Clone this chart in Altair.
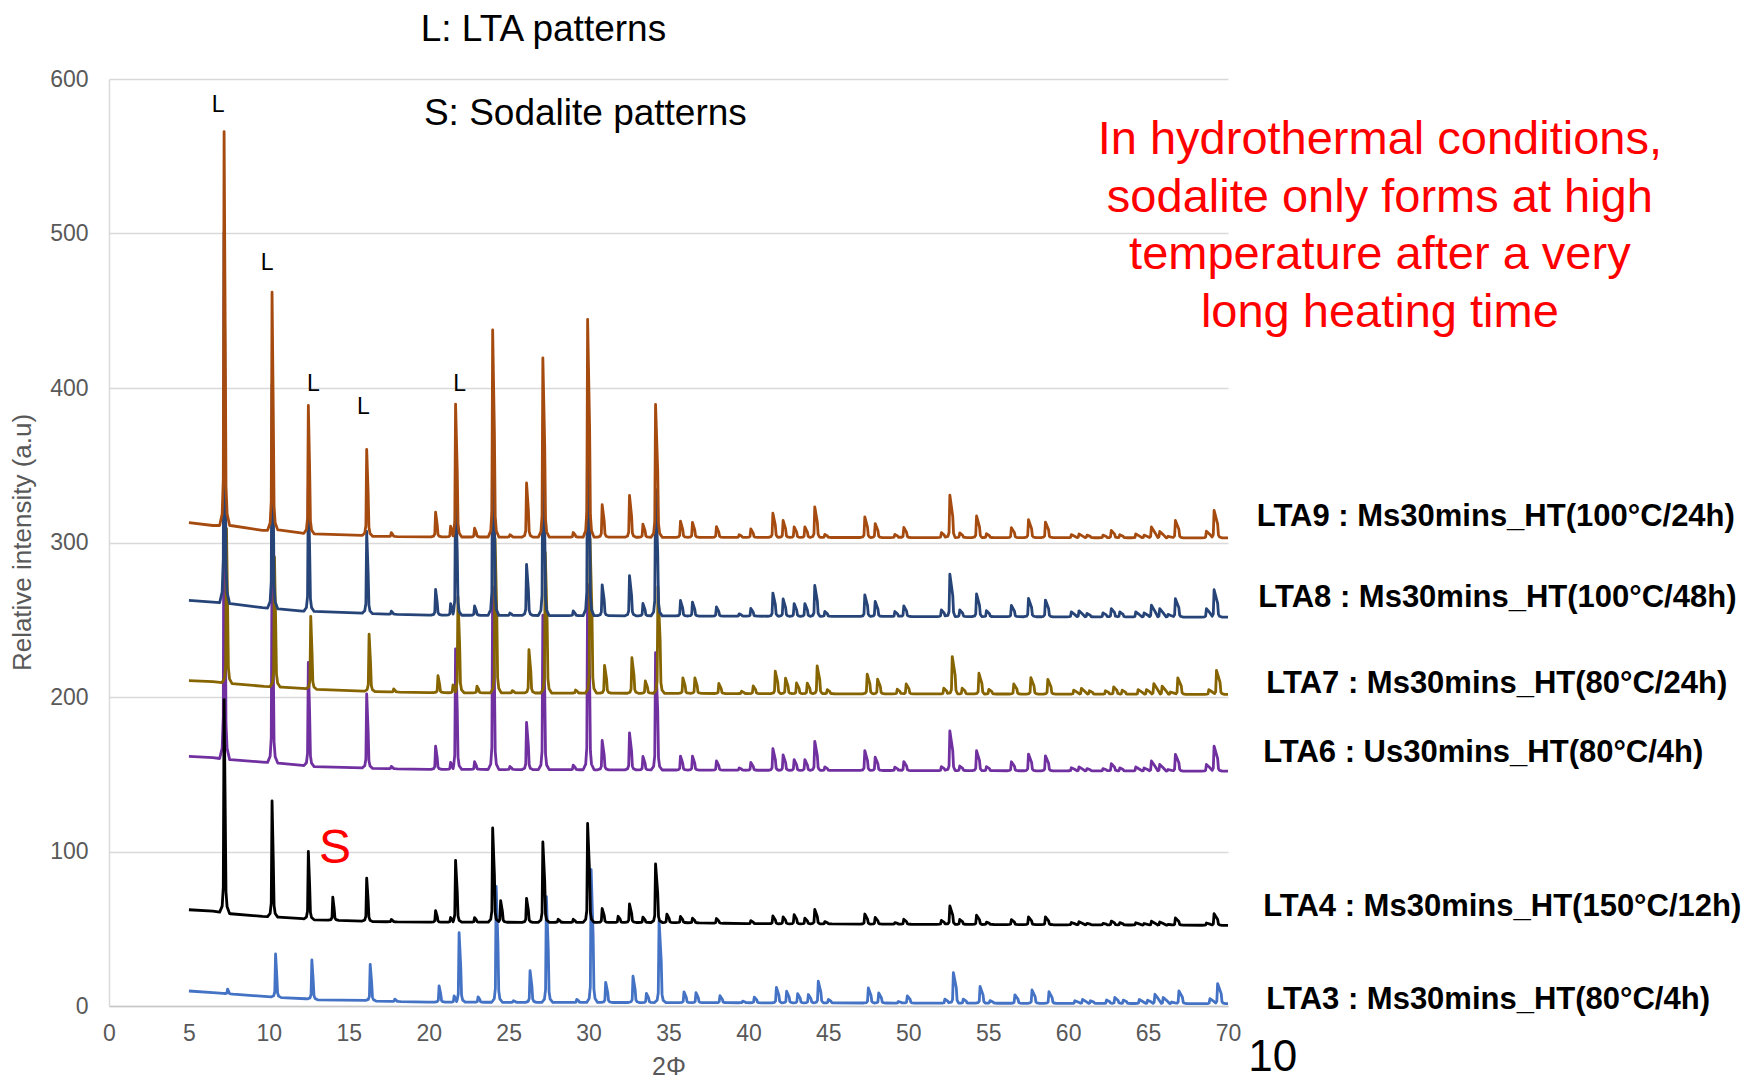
import altair as alt
import numpy as np
import pandas as pd

# ---------------- data ----------------
# shared LTA / sodalite reflection positions (2-theta, degrees)
POS = [7.20, 10.20, 12.47, 14.00, 16.12, 17.66, 20.43, 21.37, 21.68, 22.87,
       24.00, 24.50, 25.08, 26.12, 27.14, 28.10, 29.04, 29.94, 30.85, 31.85,
       32.56, 33.40, 34.19, 34.90, 35.75, 36.50, 38.00, 39.42, 40.15, 41.53,
       42.17, 42.86, 43.53, 44.15, 44.78, 47.28, 47.93, 49.16, 49.72, 52.07,
       52.60, 53.22, 54.27, 54.89, 56.45, 57.52, 58.58, 60.20, 60.68, 61.18,
       62.18, 62.70, 63.23, 64.23, 64.75, 65.21, 65.73, 66.25, 66.71, 68.65,
       69.13]

# peak heights above background, per sample
H_LTA9 = [255, 154, 83, 0, 56, 2.5, 16, 7, 86, 5.7,
          134, 0, 1.5, 35, 116, 0, 3, 141, 21, 0,
          27, 8.5, 86, 0, 10.4, 9.7, 7, 1.7, 5.5, 15.7,
          11, 6.8, 6.9, 19.8, 2, 13.4, 9, 2, 6.5, 3.2,
          27.4, 3, 14, 2.5, 6.5, 11.6, 10.1, 2, 2.4, 1.7,
          1.7, 4.7, 2, 2.5, 1.7, 7, 4.1, 1, 11.2, 4.3,
          17.8]
H_LTA8 = [240, 145, 80, 0, 53, 2, 16.6, 7.5, 82, 6,
          127, 0, 1.5, 33, 110, 0, 3, 130, 20, 0,
          26, 8, 82, 0, 10, 9, 6, 1.5, 5, 15,
          11.2, 8.2, 8.2, 20, 3.2, 14, 9.7, 3.2, 6.9, 4.3,
          27.4, 4.3, 14.7, 3.9, 7.3, 11.9, 10.8, 3.2, 3.9, 2.2,
          2.6, 5.4, 3.2, 3.2, 2.6, 7.6, 5.4, 1.7, 11.9, 5.4,
          17.7]
H_LTA7 = [100, 84, 47, 0, 37, 2, 11, 5, 62, 4.3,
          100, 0, 1.5, 28, 91, 0, 2, 100, 18, 0,
          23, 8, 69, 0, 10, 10, 6.5, 1.5, 5, 14.5,
          10, 6.9, 6.9, 18, 2.6, 12.7, 9.5, 3, 6.5, 3.7,
          24.2, 3.7, 13.4, 3, 6.5, 10.6, 9.5, 2.6, 3.7, 2.2,
          2.2, 4.7, 2.6, 3, 3, 6.9, 5.2, 1.5, 10.6, 3,
          15.5]
H_LTA6 = [230, 135, 67, 0, 48, 1.5, 15, 4.5, 78, 5,
          118, 0, 2, 30.5, 100, 0, 3, 120, 19, 0,
          24, 8.7, 76, 0, 9, 9, 6, 1.5, 5, 14,
          10, 6.9, 6.9, 18.8, 2.2, 12.9, 8.6, 2.2, 5.8, 2.6,
          25.7, 3, 12.9, 2.6, 5.8, 10.8, 9.7, 2, 2.6, 1.5,
          1.5, 4.7, 2, 2.6, 2, 6.5, 4.3, 1, 10.8, 4.3,
          16.2]
H_LTA4 = [138, 75, 44, 15, 28, 1.5, 7.5, 3, 40, 3,
          61, 14, 0, 15.5, 52, 2, 2, 64, 9, 4,
          12, 3.5, 38, 5.5, 4, 3, 3, 0, 2, 5,
          4.5, 6, 3.7, 9.3, 1.5, 6.5, 4.3, 1, 3.2, 2.6,
          11.9, 3.2, 6, 1.5, 3.2, 5, 5, 1.5, 2, 1,
          1, 2.5, 1.5, 1.5, 1, 2.5, 2, 0.5, 4.7, 1.5,
          7.5]
H_LTA3 = [3, 28, 25.5, 0, 23.5, 1.5, 10.5, 4, 45, 3.5,
          75, 0, 1, 20.5, 68.5, 0, 2, 86, 13, 0,
          17, 6, 53, 0, 7, 6.5, 4.5, 1, 3.7, 10,
          7.5, 6, 5.4, 14, 2.2, 9.7, 6.5, 1, 4.7, 2.6,
          19.8, 2.6, 10.8, 1.7, 5.4, 8.6, 7.5, 1.7, 2.6, 1.7,
          2.2, 3.9, 2.2, 2.6, 2.2, 6, 3.9, 1, 8.2, 3.2,
          13]

# background (baseline) points per sample
BG_X_LTA9 = [5.0, 6.5, 7.6, 9.6, 10.6, 12.1, 12.8, 15.8, 16.5, 20.0, 40.0, 70.0]
BG_Y_LTA9 = [312.8, 311.0, 311.0, 307.8, 308.2, 306.0, 305.6, 304.6, 304.0, 303.6, 303.3, 303.0]
BG_X_LTA8 = [5.0, 6.5, 7.6, 9.6, 10.6, 12.1, 12.8, 15.8, 16.5, 20.0, 40.0, 70.0]
BG_Y_LTA8 = [262.5, 261.4, 260.4, 257.8, 257.1, 255.6, 255.4, 254.3, 253.9, 253.0, 252.3, 251.7]
BG_X_LTA7 = [5.0, 6.5, 7.7, 9.7, 10.8, 12.3, 13.0, 15.9, 16.7, 20.0, 40.0, 70.0]
BG_Y_LTA7 = [210.6, 210.0, 208.6, 206.9, 206.4, 205.4, 205.0, 203.8, 203.5, 202.8, 202.2, 201.7]
BG_X_LTA6 = [5.0, 6.5, 7.6, 9.6, 10.6, 12.1, 12.8, 15.8, 16.5, 20.0, 40.0, 70.0]
BG_Y_LTA6 = [161.6, 160.7, 159.4, 157.9, 157.2, 155.7, 155.0, 154.2, 153.8, 153.2, 152.6, 152.0]
BG_X_LTA4 = [5.0, 6.5, 7.6, 9.6, 10.6, 12.1, 12.8, 15.8, 16.5, 20.0, 35.5, 40.0, 70.0]
BG_Y_LTA4 = [62.3, 61.4, 59.7, 58.0, 57.5, 56.5, 55.8, 55.0, 54.6, 54.3, 54.0, 53.3, 52.2]
BG_X_LTA3 = [5.0, 6.5, 7.7, 9.7, 10.8, 12.3, 13.0, 16.0, 16.7, 20.0, 70.0]
BG_Y_LTA3 = [9.7, 8.6, 7.7, 6.2, 5.4, 4.7, 4.0, 3.7, 3.2, 2.5, 1.5]

# peak position offset of each sample relative to POS
SHIFT = {"LTA9": 0.0, "LTA8": 0.0, "LTA7": 0.15, "LTA6": 0.0, "LTA4": 0.0, "LTA3": 0.22}

SERIES = ["LTA3", "LTA6", "LTA7", "LTA8", "LTA9", "LTA4"]  # drawing order
HEIGHTS = {"LTA9": H_LTA9, "LTA8": H_LTA8, "LTA7": H_LTA7,
           "LTA6": H_LTA6, "LTA4": H_LTA4, "LTA3": H_LTA3}
BGX = {"LTA9": BG_X_LTA9, "LTA8": BG_X_LTA8, "LTA7": BG_X_LTA7,
       "LTA6": BG_X_LTA6, "LTA4": BG_X_LTA4, "LTA3": BG_X_LTA3}
BGY = {"LTA9": BG_Y_LTA9, "LTA8": BG_Y_LTA8, "LTA7": BG_Y_LTA7,
       "LTA6": BG_Y_LTA6, "LTA4": BG_Y_LTA4, "LTA3": BG_Y_LTA3}
COLORS = {"LTA9": "#A64B10", "LTA8": "#264478", "LTA7": "#866400",
          "LTA6": "#7030A0", "LTA4": "#000000", "LTA3": "#4472C4"}

# series labels at the right
LABELS = ["LTA9 : Ms30mins_HT(100°C/24h)", "LTA8 : Ms30mins_HT(100°C/48h)",
          "LTA7 : Ms30mins_HT(80°C/24h)", "LTA6 : Us30mins_HT(80°C/4h)",
          "LTA4 : Ms30mins_HT(150°C/12h)", "LTA3 : Ms30mins_HT(80°C/4h)"]
LABEL_X = [71.8, 71.9, 72.4, 72.2, 72.2, 72.4]
LABEL_Y = [316.2, 263.8, 208.2, 163.5, 63.9, 3.6]

HEAD_TEXT = ["L: LTA patterns", "S: Sodalite patterns"]
HEAD_X = [19.5, 19.7]
HEAD_Y = [631.9, 577.5]

L_X = [6.83, 9.9, 12.78, 15.92, 21.94]
L_Y = [583.0, 480.8, 402.6, 387.8, 402.6]

S_X = [14.13]
S_Y = [101.6]

NOTE_LINES = ["In hydrothermal conditions,", "sodalite only forms at high",
              "temperature after a very", "long heating time"]
NOTE_X = [79.5, 79.5, 79.5, 79.5]
NOTE_Y = [560.4, 523.2, 486.0, 448.8]

PAGE_NO = ["10"]
PAGE_X = [72.8]
PAGE_Y = [-19.7]

X_TICKS = list(range(0, 71, 5))
Y_TICKS = list(range(0, 601, 100))

# ---------------- peak outline (drawing shape only) ----------------
LEFT = [(-0.28, 0.0), (-0.12, 0.03), (-0.05, 0.12)]
RIGHT = [(0.05, 0.10), (0.12, 0.03), (0.28, 0.0)]


def build(name):
    sh = SHIFT[name]
    bx = np.array(BGX[name], dtype=float)
    by = np.array(BGY[name], dtype=float)
    peaks = [(p + sh, h) for p, h in zip(POS, HEIGHTS[name]) if h > 0]
    ps = [p for p, _ in peaks]
    pts = []
    for i, (p, h) in enumerate(peaks):
        lo = (ps[i - 1] + p) / 2 if i > 0 else -1e9
        hi = (p + ps[i + 1]) / 2 if i < len(ps) - 1 else 1e9
        d = 0.05 + 0.0025 * p
        verts = [(p + dx, f) for dx, f in LEFT] + [(p, 1.0), (p + d, 0.5)] + \
                [(p + d + dx, f) for dx, f in RIGHT]
        for x, f in verts:
            if lo < x < hi:
                pts.append((x, float(np.interp(x, bx, by)) + f * h))
    for x, y in zip(bx, by):
        if all(abs(x - p) > 0.35 for p in ps):
            pts.append((float(x), float(y)))
    pts.sort()
    df = pd.DataFrame(pts, columns=["x", "y"])
    df["series"] = name
    return df


XS = alt.Scale(domain=[0, 70], nice=False, zero=False)
YS = alt.Scale(domain=[0, 600], nice=False, zero=False)
FONT = "Liberation Sans"

layers = []
first = True
for name in SERIES:
    df = build(name)
    if first:
        xenc = alt.X("x:Q", scale=XS, axis=alt.Axis(
            values=X_TICKS, title="2Φ", grid=False, ticks=False,
            labelFontSize=23, labelColor="#595959", labelPadding=16,
            labelFlush=False, labelOverlap=False,
            labelFont=FONT, titleFont=FONT, titleFontSize=25,
            titleFontWeight="normal", titleColor="#595959",
            titleBaseline="middle", titleY=60,
            domainColor="#C8C8C8", domainWidth=1.5))
        yenc = alt.Y("y:Q", scale=YS, axis=alt.Axis(
            values=Y_TICKS, title="Relative intensity (a.u)", grid=True,
            gridColor="#D9D9D9", gridWidth=1.4, ticks=False,
            labelFontSize=23, labelColor="#595959", labelPadding=21,
            labelFlush=False, labelOverlap=False,
            labelFont=FONT, titleFont=FONT, titleFontSize=26,
            titleFontWeight="normal", titleColor="#595959",
            titleAngle=-90, titleAlign="center", titleBaseline="middle",
            titleX=-87, titleY=463,
            domainColor="#D9D9D9", domainWidth=1.5))
        first = False
    else:
        xenc = alt.X("x:Q", scale=XS)
        yenc = alt.Y("y:Q", scale=YS)
    layers.append(
        alt.Chart(df).mark_line(color=COLORS[name], strokeWidth=2.8,
                                strokeJoin="round", interpolate="linear")
        .encode(x=xenc, y=yenc)
    )


def text_layer(texts, xs, ys, size, color="black", weight="normal",
               align="center", baseline="middle"):
    df = pd.DataFrame({"t": texts, "x": xs, "y": ys})
    return alt.Chart(df).mark_text(
        font=FONT, fontSize=size, color=color, fontWeight=weight,
        align=align, baseline=baseline
    ).encode(x=alt.X("x:Q", scale=XS), y=alt.Y("y:Q", scale=YS), text="t:N")


layers.append(text_layer(HEAD_TEXT, HEAD_X, HEAD_Y, 37, align="left"))
layers.append(text_layer(["L"] * len(L_X), L_X, L_Y, 23))
layers.append(text_layer(["S"], S_X, S_Y, 48, color="#FF0000"))
layers.append(text_layer(NOTE_LINES, NOTE_X, NOTE_Y, 47, color="#FF0000"))
layers.append(text_layer(LABELS, LABEL_X, LABEL_Y, 31, weight="bold", align="left"))
layers.append(text_layer(PAGE_NO, PAGE_X, PAGE_Y, 44, baseline="top"))

chart = alt.layer(*layers).properties(
    width=1119, height=927,
    padding={"left": 101, "top": 71, "right": 524, "bottom": 73},
    autosize=alt.AutoSizeParams(type="none"),
    background="white",
).configure_view(stroke=None)

chart.save("out.html", embed_options={"renderer": "svg", "actions": False})
